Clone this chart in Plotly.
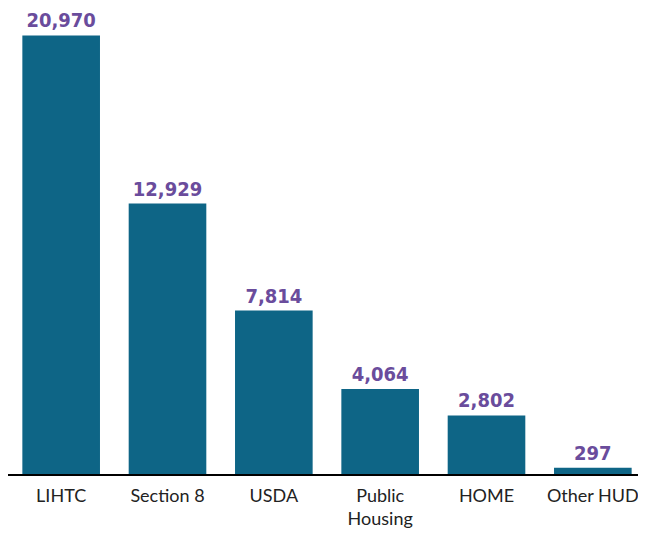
import plotly.graph_objects as go

categories = ["LIHTC", "Section 8", "USDA", "Public<br>Housing", "HOME", "Other HUD"]
values = [20970, 12929, 7814, 4064, 2802, 297]
value_labels = [f"{v:,}" for v in values]

fig = go.Figure(go.Bar(
    x=categories,
    y=values,
    text=value_labels,
    textposition="outside",
    cliponaxis=False,
    marker=dict(color="#0e6586", line=dict(width=0)),
    textfont=dict(family="DejaVu Sans Condensed", size=20, color="#6a4c9c", weight="bold"),
    hoverinfo="skip",
))

fig.update_layout(
    width=638, height=521,
    margin=dict(l=0, r=0, t=0, b=55, autoexpand=False),
    paper_bgcolor="white", plot_bgcolor="white",
    bargap=0.27,
    showlegend=False,
    xaxis=dict(
        automargin=False,
        showline=True, linecolor="black", linewidth=2,
        showgrid=False, zeroline=False,
        ticks="outside", ticklen=4, tickcolor="rgba(0,0,0,0)",
        tickfont=dict(family="Lato", size=18, color="#222222"),
    ),
    yaxis=dict(
        automargin=False,
        range=[0, 22280], visible=False, showgrid=False, zeroline=False,
    ),
)

fig.write_html("out.html")
